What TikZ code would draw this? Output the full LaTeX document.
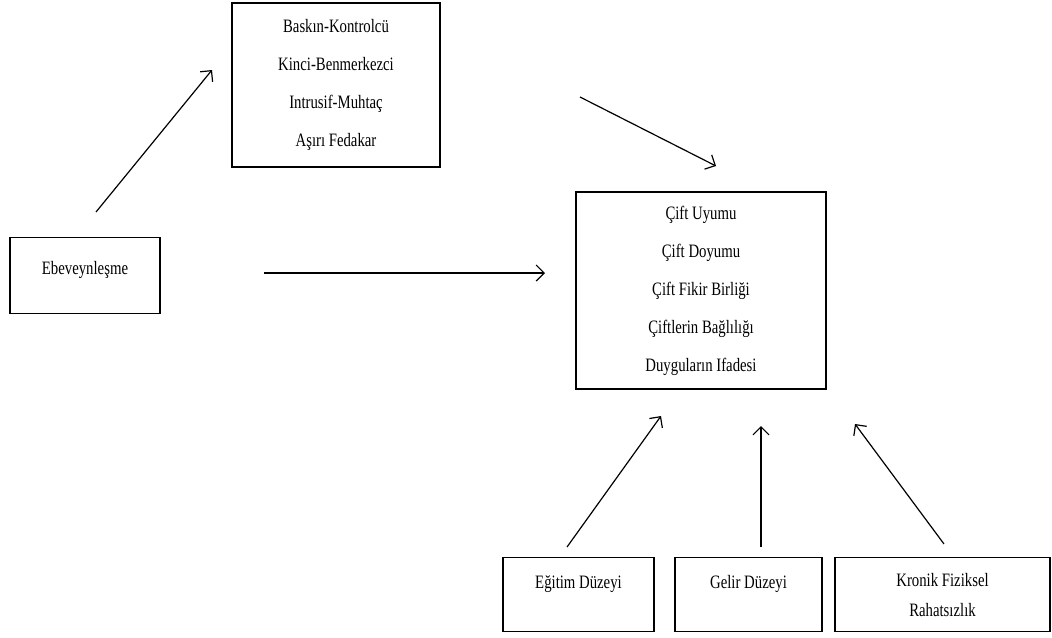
\documentclass[tikz,border=0pt]{standalone}
\usepackage{fontspec}
\setmainfont{Liberation Serif}[FakeStretch=0.78]
\usetikzlibrary{arrows.meta}

\tikzset{
  kutu/.style={draw, line width=1.1pt, inner sep=0pt, align=center,
    font=\fontsize{14.2}{28.5}\selectfont},
  kucukkutu/.style={draw, line width=1.1pt, inner sep=0pt, anchor=north,
    font=\fontsize{14.2}{22.5}\selectfont},
  ok/.style={line width=0.9pt, -{Straight Barb[length=6pt,width=12pt]}}
}

\begin{document}
\begin{tikzpicture}[x=0.75pt, y=-0.75pt]
    \useasboundingbox (0,0) rectangle (1052,637);

    \node[kutu, minimum width=156pt, minimum height=123pt] (kisilik) at (336,85)
      {Baskın-Kontrolcü\\Kinci-Benmerkezci\\Intrusif-Muhtaç\\Aşırı Fedakar};

    \node[kutu, minimum width=187.5pt, minimum height=147.75pt] (evlilik) at (701,290.5)
      {Çift Uyumu\\Çift Doyumu\\Çift Fikir Birliği\\Çiftlerin Bağlılığı\\Duyguların Ifadesi};

    \node[kucukkutu, minimum width=112.5pt, text height=27.5pt, text depth=29.5pt] (ebev) at (85,237)
      {Ebeveynleşme};

    % alt kutular
    \node[kucukkutu, minimum width=113.25pt, text height=23pt, text depth=32.5pt] (egitim) at (578.5,557)
      {Eğitim Düzeyi};
    \node[kucukkutu, minimum width=110.25pt, text height=23pt, text depth=32.5pt] (gelir) at (748.5,557)
      {Gelir Düzeyi};
    \node[kucukkutu, align=center, minimum width=161.25pt, minimum height=55.5pt] (kronik) at (942.5,557)
      {Kronik Fiziksel\\Rahatsızlık};

    \coordinate (e1) at (96,212);    \coordinate (e2) at (212,70);
    \coordinate (k1) at (580,97);    \coordinate (k2) at (716,166);
    \coordinate (h1) at (264,273);   \coordinate (h2) at (545,273);
    \coordinate (a1) at (567,547);   \coordinate (a2) at (661,416);
    \coordinate (b1) at (761,547);   \coordinate (b2) at (761,426);
    \coordinate (c1) at (944,544);   \coordinate (c2) at (855,424);

    \draw[ok] (e1) -- (e2);
    \draw[ok] (k1) -- (k2);
    \draw[ok] (h1) -- (h2);
    \draw[ok] (a1) -- (a2);
    \draw[ok] (b1) -- (b2);
    \draw[ok] (c1) -- (c2);

\end{tikzpicture}
\end{document}
